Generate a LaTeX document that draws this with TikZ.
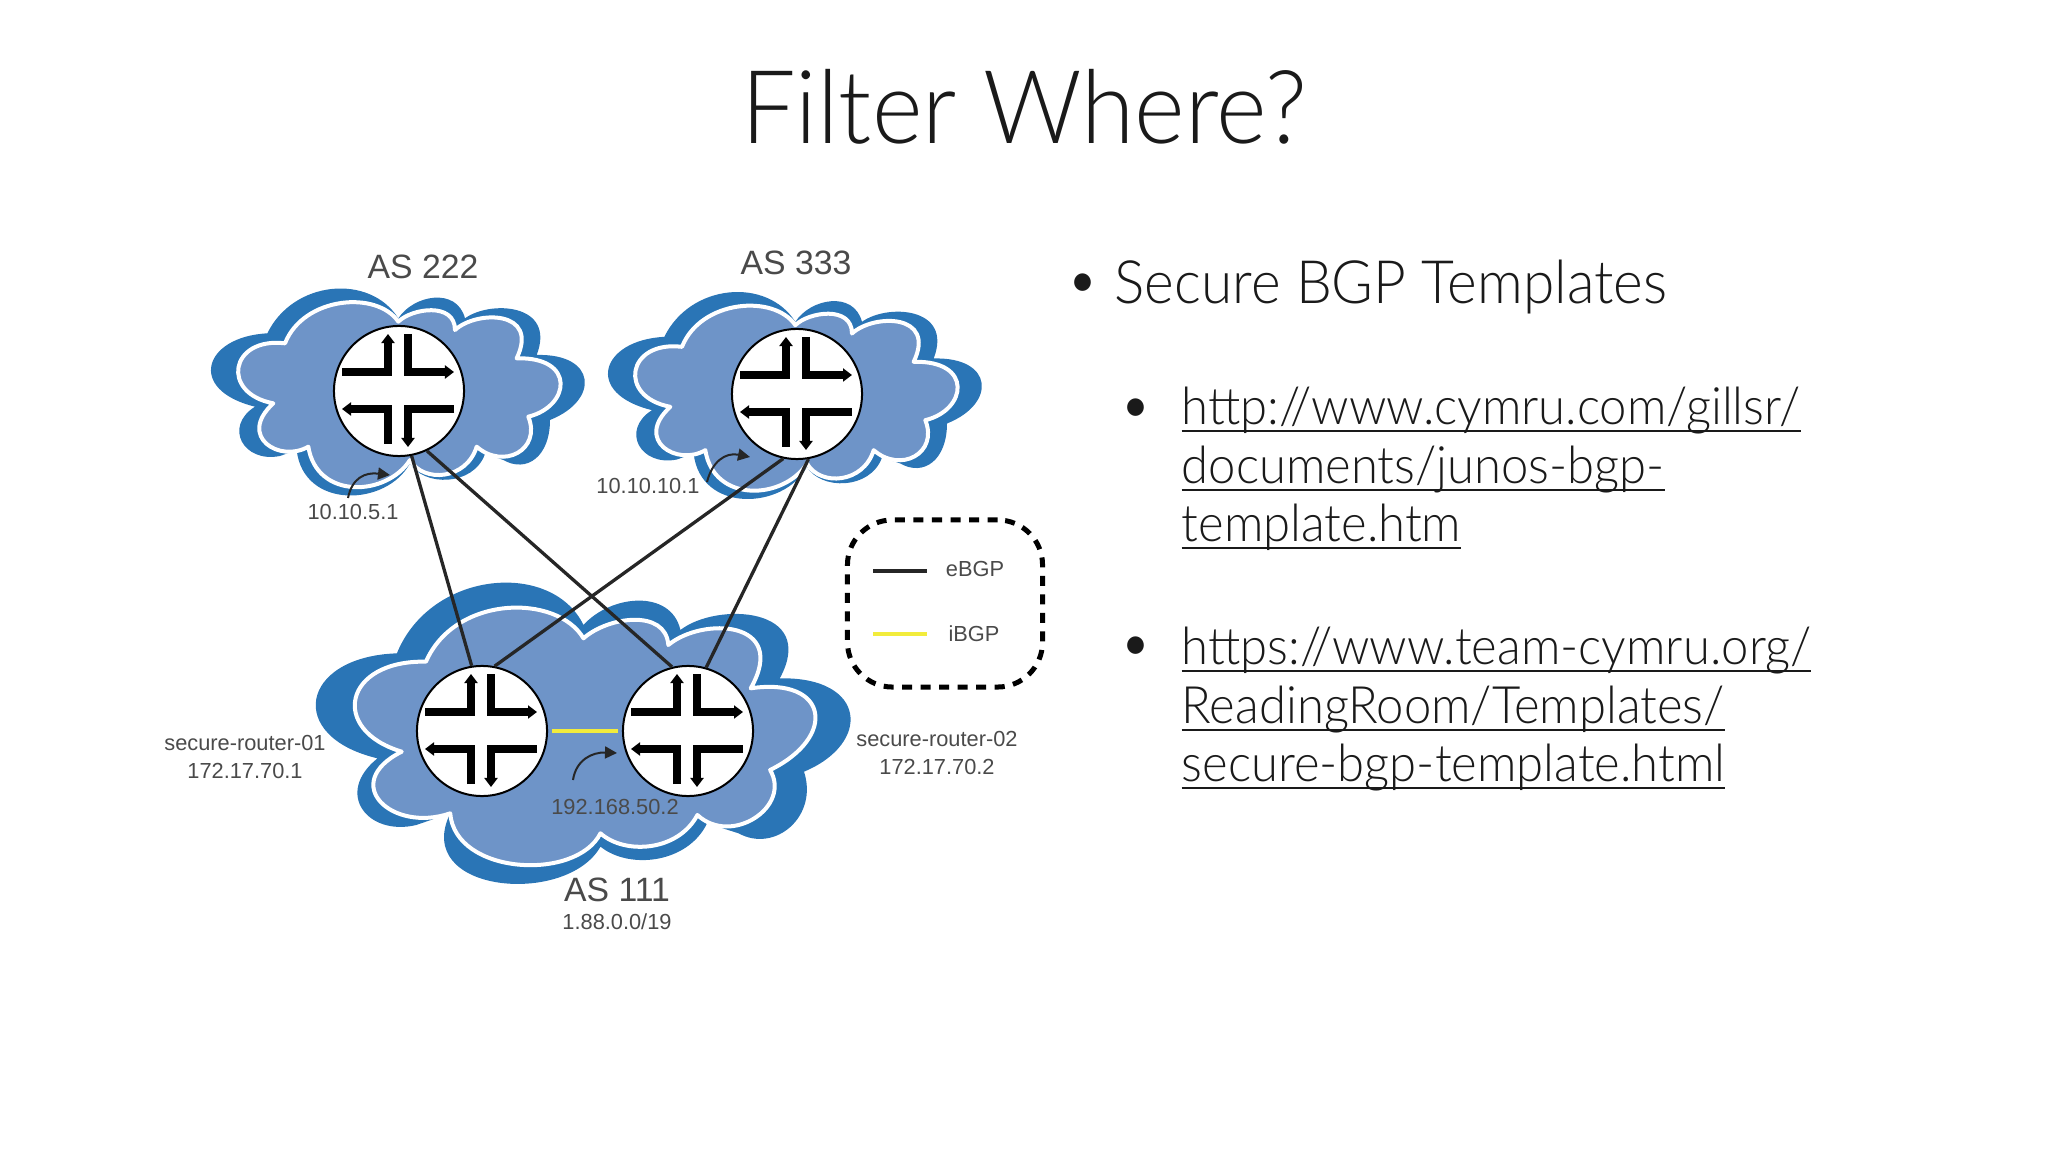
\documentclass[tikz,border=0pt]{standalone}
\usepackage{fontspec}
\setmainfont{Liberation Sans}
\newfontfamily\slidefont[FakeStretch=0.95]{Lato Light}
\usetikzlibrary{arrows.meta}
\definecolor{clouddark}{HTML}{2A75B6}
\definecolor{cloudlight}{HTML}{6E94C8}
\definecolor{labelgray}{HTML}{4A4A4A}
\definecolor{ibgpyellow}{HTML}{F2EC3C}
\definecolor{slideink}{HTML}{1A1A1A}
\newcommand{\linkline}[1]{\leavevmode\setbox0=\hbox{#1}\rlap{#1}\vrule height -1.5pt depth 2.1pt width \wd0\relax}
\tikzset{
  router/.style={circle, draw=black, fill=white, line width=0.2mm, minimum size=1.3cm, inner sep=0pt},
  cloudout/.style={fill=clouddark},
  cloudin/.style={fill=cloudlight, draw=white, line width=0.4mm, line join=round},
  ebgp/.style={black!85, line width=0.33mm},
  ibgp/.style={ibgpyellow, line width=0.4mm},
  pointer/.style={black!85, line width=0.2mm, -{Triangle[length=1.2mm,width=1.2mm]}},
  routerpath/.style={line width=0.08cm, black, -{Triangle[length=0.9mm,width=1.3mm]}},
  aslabel/.style={labelgray, font=\fontsize{9.6}{11}\selectfont},
  iplabel/.style={labelgray, font=\fontsize{6.2}{8}\selectfont, align=center},
  linktext/.style={slideink, anchor=north west, align=left, font=\slidefont\fontsize{14.66}{16.6}\selectfont},
  bullettext/.style={slideink, font=\slidefont\fontsize{17}{19}\selectfont}
}
% Nube pequena, coordenadas tomadas a 3x
\newcommand{\smallcloud}{
  \fill[cloudout] (655,265)
    .. controls (700,195) and (830,170) .. (855,265)
    .. controls (930,210) and (1130,220) .. (1070,375)
    .. controls (1250,370) and (1260,510) .. (1110,570)
    .. controls (1110,680) and (1040,730) .. (970,690)
    -- (915,672)
    .. controls (880,770) and (730,770) .. (690,700)
    .. controls (620,830) and (370,840) .. (350,660)
    -- (300,678)
    .. controls (190,700) and (130,590) .. (225,530)
    .. controls (20,480) and (70,320) .. (262,310)
    .. controls (340,150) and (570,130) .. (655,265)
    -- cycle;
  \filldraw[cloudin] (655,275)
    .. controls (695,235) and (825,215) .. (825,300)
    .. controls (890,240) and (1080,240) .. (1010,385)
    .. controls (1190,380) and (1170,530) .. (1045,560)
    .. controls (1085,660) and (970,720) .. (890,650)
    .. controls (860,750) and (730,760) .. (690,690)
    .. controls (620,800) and (410,810) .. (385,650)
    .. controls (300,700) and (170,620) .. (280,520)
    .. controls (120,490) and (150,320) .. (315,340)
    .. controls (370,200) and (590,180) .. (655,275)
    -- cycle;
}
\begin{document}
\begin{tikzpicture}[x=0.01cm, y=-0.01cm]
  \useasboundingbox (0,0) rectangle (2048,1152);

  % Titulo
  \node[slideink, font=\slidefont\fontsize{29}{32}\selectfont] (title) at (1024,107) {Filter Where?};

  % Nubes
  \begin{scope}[shift={(180,230)}, scale=1/3]
    \smallcloud
  \end{scope}
  \begin{scope}[shift={(577,233.5)}, scale=1/3]
    \smallcloud
  \end{scope}
  \begin{scope}[shift={(140,570)}, xscale=0.4847, yscale=1/3]
    \fill[cloudout] (915,165)
      .. controls (970,75) and (1095,55) .. (1115,180)
      .. controls (1190,95) and (1400,110) .. (1320,325)
      .. controls (1500,320) and (1510,520) .. (1370,605)
      .. controls (1400,740) and (1310,850) .. (1235,790)
      -- (1170,760)
      .. controls (1130,880) and (1010,900) .. (950,830)
      .. controls (880,1010) and (560,970) .. (640,730)
      -- (570,765)
      .. controls (470,800) and (400,670) .. (490,565)
      .. controls (300,500) and (330,260) .. (530,250)
      .. controls (600,0) and (850,-30) .. (915,165)
      -- cycle;
    \filldraw[cloudin] (915,205)
      .. controls (965,140) and (1085,115) .. (1090,225)
      .. controls (1160,140) and (1340,150) .. (1260,355)
      .. controls (1420,320) and (1440,500) .. (1300,600)
      .. controls (1345,710) and (1220,830) .. (1150,735)
      .. controls (1110,845) and (1000,855) .. (950,790)
      .. controls (900,935) and (650,915) .. (640,730)
      .. controls (520,790) and (410,640) .. (540,545)
      .. controls (390,480) and (420,270) .. (590,275)
      .. controls (650,75) and (860,70) .. (915,205)
      -- cycle;
  \end{scope}

  % Routers
  \node[router] (r222) at (399,391) {};
  \node[router] (r333) at (797,394) {};
  \node[router] (r01) at (482,731) {};
  \node[router] (r02) at (688,731) {};
  \foreach \rname in {r222,r333,r01,r02} {
    \begin{scope}[shift={(\rname)}]
      \draw[routerpath] (-57,-19) -- (-11,-19) -- (-11,-57);
      \draw[routerpath] (9,-57) -- (9,-19) -- (55,-19);
      \draw[routerpath] (-11,53) -- (-11,18) -- (-57,18);
      \draw[routerpath] (55,18) -- (9,18) -- (9,56);
    \end{scope}
  }

  % Enlaces
  \draw[ebgp] (r222.-79) -- (r01.99);
  \draw[ebgp] (r222.-65) -- (r02.104);
  \draw[ebgp] (r333.-102) -- (r01.79);
  \draw[ebgp] (r333.-80) -- (r02.74);
  \draw[ibgp, shorten <=1pt, shorten >=1pt] (r01) -- (r02);

  % Etiquetas
  \node[aslabel] (as222) at (423,267) {AS 222};
  \node[aslabel] (as333) at (796,263) {AS 333};
  \node[aslabel] (as111) at (617,890) {AS 111};
  \node[iplabel] (net111) at (617,922) {1.88.0.0/19};
  \node[iplabel] (ip5) at (353,512) {10.10.5.1};
  \node[iplabel] (ip10) at (648,486) {10.10.10.1};
  \node[iplabel] (ip50) at (615,807) {192.168.50.2};
  \node[iplabel] (sr01) at (245,757) {secure-router-01\\172.17.70.1};
  \node[iplabel] (sr02) at (937,753) {secure-router-02\\172.17.70.2};

  % Flechas curvas
  \coordinate (tail5) at (348,498);
  \coordinate (tip5) at (390,475);
  \coordinate (tail10) at (707,482);
  \coordinate (tip10) at (750,457);
  \coordinate (tail50) at (573,780);
  \coordinate (tip50) at (617,753);
  \draw[pointer] (tail5) .. controls (352,478) and (365,472) .. (tip5);
  \draw[pointer] (tail10) .. controls (712,462) and (725,452) .. (tip10);
  \draw[pointer] (tail50) .. controls (576,760) and (592,752) .. (tip50);

  % Leyenda
  \node[draw=black, line width=0.5mm, dash pattern=on 0.1cm off 0.085cm, rounded corners=0.45cm, minimum width=1.95cm, minimum height=1.67cm, inner sep=0pt] (legend) at (945,603.5) {};
  \node[iplabel] (ebgplabel) at (975,569) {eBGP};
  \node[iplabel] (ibgplabel) at (974,634) {iBGP};
  \coordinate (ebgpa) at (873,571);
  \coordinate (ebgpb) at (927,571);
  \coordinate (ibgpa) at (873,634);
  \coordinate (ibgpb) at (927,634);
  \draw[ebgp] (ebgpa) -- (ebgpb);
  \draw[ibgp] (ibgpa) -- (ibgpb);

  % Texto de la derecha
  \node[bullettext] (bula) at (1083,287) {•};
  \node[bullettext, anchor=base west, inner xsep=0pt] (bgp) at (1114,304) {Secure BGP Templates};
  \node[bullettext] (bulb) at (1136,412) {•};
  \node[linktext, inner xsep=0pt] (linka) at (1181,375) {\linkline{http://www.cymru.com/gillsr/}\\\linkline{documents/junos-bgp-}\\\linkline{template.htm}};
  \node[bullettext] (bulc) at (1136,650) {•};
  \node[linktext, inner xsep=0pt] (linkb) at (1181,615) {\linkline{https://www.team-cymru.org/}\\\linkline{ReadingRoom/Templates/}\\\linkline{secure-bgp-template.html}};
\end{tikzpicture}
\end{document}
